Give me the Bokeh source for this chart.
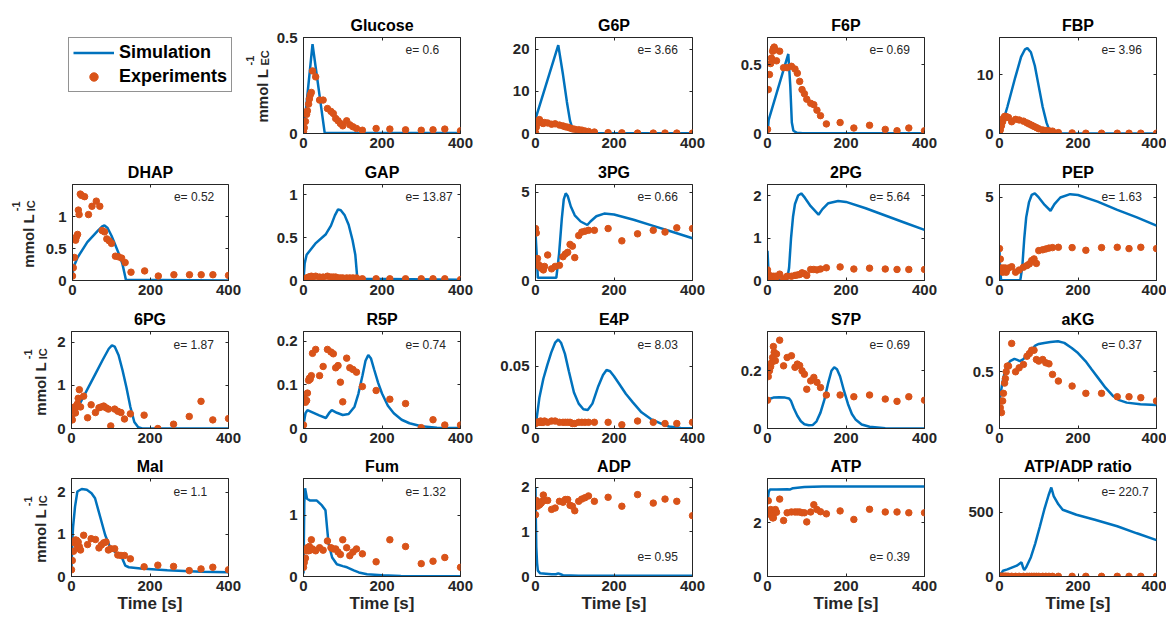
import math
from bokeh.plotting import figure
from bokeh.models import Range1d, FixedTicker, Label, Legend, LegendItem, NumeralTickFormatter, LinearAxis
from bokeh.layouts import column, row
from bokeh.embed import file_html
from bokeh.resources import INLINE

BLUE = "#0072BD"
ORANGE = "#D95319"
AXC = "#262626"
FONT = "Liberation Sans"

# shared experimental sampling times [s]
T_EXP = [0, 2, 5, 8, 10, 13, 15, 17, 20, 23, 31, 41, 50, 61, 70, 76, 82, 88, 94, 100,
         110, 118, 126, 135, 150, 185, 220, 260, 300, 330, 360, 400]

# ---------------- Glucose ----------------
GLC_T = [0, 23, 54, 400]
GLC_S = [0.0, 0.465, 0.003, 0.003]
GLC_E = [0.01, 0.03, 0.063, 0.10, 0.118, 0.153, 0.18, 0.2, 0.214, 0.326, 0.295, 0.174, 0.174, 0.13, 0.115, 0.104,
         0.078, 0.066, 0.052, 0.04, 0.066, 0.045, 0.035, 0.026, 0.017, 0.026, 0.023, 0.019, 0.017, 0.019, 0.023, 0.014]
# ---------------- G6P ----------------
G6P_T = [0, 58, 70, 80, 88, 95, 105, 120, 400]
G6P_S = [3.5, 21.0, 14.0, 7.5, 3.0, 1.0, 0.2, 0.05, 0.05]
G6P_E = [0.2, 1.5, 2.5, 3.0, 3.3, 2.8, 2.6, 2.5, 2.4, 2.6, 2.5, 2.2, 2.3, 2.0, 1.8, 1.6,
         1.5, 1.3, 1.1, 1.0, 0.9, 0.8, 0.6, 0.5, 0.35, 0.2, 0.15, 0.1, 0.1, 0.1, 0.1, 0.1]
# ---------------- F6P ----------------
F6P_T = [0, 3, 53, 58, 62, 66, 75, 90, 400]
F6P_S = [0.0, 0.1, 0.58, 0.35, 0.08, 0.02, 0.005, 0.002, 0.002]
F6P_E = [0.03, 0.32, 0.43, 0.51, 0.55, 0.6, 0.62, 0.63, 0.61, 0.53, 0.6, 0.48, 0.48, 0.49, 0.47, 0.44,
         0.38, 0.32, 0.29, 0.25, 0.22, 0.21, 0.17, 0.13, 0.07, 0.08, 0.04, 0.06, 0.03, 0.02, 0.04, 0.02]
# ---------------- FBP ----------------
FBP_T = [0, 20, 40, 55, 65, 71, 80, 90, 100, 110, 120, 128, 135, 400]
FBP_S = [0.0, 4.5, 9.5, 13.0, 14.3, 14.5, 13.8, 11.5, 8.0, 4.5, 1.8, 0.4, 0.05, 0.02]
FBP_E = [0.05, 0.6, 1.3, 2.0, 2.6, 2.9, 2.9, 2.8, 2.8, 2.7, 2.0, 2.4, 2.3, 2.1, 1.8, 1.6,
         1.4, 1.2, 1.0, 0.8, 0.6, 0.5, 0.45, 0.4, 0.15, 0.1, 0.05, 0.05, 0.05, 0.05, 0.05, 0.05]
# ---------------- DHAP ----------------
DHAP_T = [0, 2, 13, 38, 64, 75, 82, 90, 100, 110, 120, 128, 133, 137, 400]
DHAP_S = [0.05, 0.2, 0.36, 0.6, 0.77, 0.84, 0.86, 0.82, 0.7, 0.55, 0.4, 0.26, 0.12, 0.01, 0.0]
DHAP_E = [0.07, 0.2, 0.36, 0.63, 0.68, 0.72, 1.1, 1.03, 1.35, 1.33, 1.31, 1.03, 1.16, 1.24, 1.16, 0.78,
          0.76, 0.65, 0.62, 0.58, 0.38, 0.37, 0.35, 0.28, 0.13, 0.15, 0.07, 0.09, 0.09, 0.09, 0.09, 0.08]
# ---------------- GAP ----------------
GAP_T = [0, 3, 8, 30, 57, 70, 80, 88, 95, 105, 115, 125, 132, 137, 150, 400]
GAP_S = [0.0, 0.2, 0.3, 0.43, 0.54, 0.64, 0.76, 0.83, 0.82, 0.76, 0.65, 0.47, 0.3, 0.03, 0.02, 0.01]
GAP_E = [0.01, 0.02, 0.02, 0.03, 0.03, 0.04, 0.04, 0.04, 0.05, 0.04, 0.05, 0.04, 0.04, 0.05, 0.04, 0.04,
         0.04, 0.03, 0.03, 0.03, 0.03, 0.03, 0.03, 0.03, 0.02, 0.02, 0.02, 0.02, 0.02, 0.02, 0.02, 0.01]
# ---------------- 3PG ----------------
PG3_T = [0, 3, 6, 53, 60, 67, 72, 77, 82, 90, 100, 115, 132, 140, 155, 175, 200, 250, 300, 350, 400]
PG3_S = [2.7, 1.5, 0.15, 0.15, 1.5, 3.5, 4.6, 4.95, 4.8, 4.2, 3.7, 3.35, 3.15, 3.35, 3.65, 3.8, 3.75, 3.45, 3.1, 2.75, 2.4]
PG3_E = [2.95, 2.7, 1.25, 0.9, 0.8, 0.76, 0.7, 0.76, 0.6, 0.8, 1.45, 0.66, 0.8, 0.86, 1.35, 1.5,
         1.6, 2.05, 1.95, 1.3, 2.55, 2.75, 2.8, 2.85, 2.85, 2.95, 2.25, 2.65, 2.85, 2.75, 2.99, 2.95]
# ---------------- 2PG ----------------
PG2_T = [0, 2, 5, 50, 55, 60, 65, 70, 78, 86, 95, 110, 130, 140, 155, 180, 200, 250, 300, 350, 400]
PG2_S = [0.7, 0.3, 0.02, 0.02, 0.3, 1.0, 1.5, 1.8, 2.0, 2.05, 1.95, 1.75, 1.55, 1.68, 1.82, 1.87, 1.85, 1.7, 1.53, 1.36, 1.19]
PG2_E = [0.25, 0.15, 0.08, 0.05, 0.1, 0.08, 0.1, 0.05, 0.1, 0.08, 0.15, 0.05, 0.1, 0.1, 0.12, 0.13,
         0.14, 0.18, 0.16, 0.12, 0.26, 0.26, 0.25, 0.27, 0.3, 0.32, 0.27, 0.29, 0.27, 0.26, 0.26, 0.26]
# ---------------- PEP ----------------
PEP_T = [0, 1, 4, 53, 58, 63, 68, 75, 82, 90, 100, 115, 130, 140, 155, 180, 200, 250, 300, 350, 400]
PEP_S = [1.8, 1.0, 0.02, 0.02, 0.8, 2.5, 3.8, 4.7, 5.15, 5.25, 5.0, 4.55, 4.2, 4.6, 5.0, 5.2, 5.15, 4.75, 4.25, 3.8, 3.3]
PEP_E = [1.92, 1.29, 0.75, 0.5, 0.75, 0.6, 0.75, 0.5, 0.7, 0.75, 0.83, 0.5, 0.63, 0.8, 0.9, 1.0,
         1.2, 1.3, 1.03, 1.8, 1.85, 1.9, 1.95, 1.98, 2.0, 1.98, 1.82, 1.98, 2.0, 1.92, 2.0, 1.92]
# ---------------- 6PG ----------------
PG6_T = [0, 20, 40, 60, 80, 95, 103, 110, 120, 130, 140, 150, 160, 170, 180, 400]
PG6_S = [0.2, 0.55, 0.9, 1.25, 1.6, 1.85, 1.93, 1.9, 1.7, 1.35, 0.95, 0.5, 0.15, 0.03, 0.0, 0.0]
PG6_E = [0.23, 0.2, 0.49, 0.41, 0.36, 0.53, 0.57, 0.7, 0.9, 0.5, 0.75, 0.25, 0.55, 0.37, 0.48, 0.5,
         0.52, 0.48, 0.45, 0.06, 0.45, 0.4, 0.37, 0.22, 0.34, 0.31, 0.0, 0.1, 0.28, 0.63, 0.2, 0.23]
# ---------------- R5P ----------------
R5P_T = [0, 5, 10, 20, 40, 57, 65, 72, 85, 100, 115, 130, 140, 150, 158, 165, 172, 180, 190, 200,
         215, 230, 250, 270, 300, 340, 400]
R5P_S = [0.008, 0.035, 0.042, 0.038, 0.03, 0.024, 0.035, 0.042, 0.036, 0.031, 0.033, 0.05, 0.08, 0.12,
         0.155, 0.168, 0.16, 0.135, 0.105, 0.08, 0.052, 0.035, 0.02, 0.012, 0.005, 0.002, 0.001]
R5P_E = [0.008, 0.069, 0.06, 0.064, 0.081, 0.11, 0.115, 0.113, 0.121, 0.172, 0.181, 0.121, 0.142, 0.181, 0.175, 0.171,
         0.139, 0.144, 0.106, 0.061, 0.161, 0.139, 0.135, 0.129, 0.096, 0.087, 0.067, 0.057, 0.002, 0.02, 0.008, 0.008]
# ---------------- E4P ----------------
E4P_T = [0, 10, 20, 30, 40, 50, 58, 65, 75, 85, 98, 110, 122, 133, 145, 160, 172, 181, 190, 200,
         213, 230, 248, 270, 294, 320, 340, 370, 400]
E4P_S = [0.001, 0.025, 0.04, 0.051, 0.061, 0.069, 0.0716, 0.069, 0.06, 0.046, 0.029, 0.02, 0.0155, 0.0149,
         0.02, 0.034, 0.043, 0.047, 0.046, 0.042, 0.036, 0.028, 0.021, 0.013, 0.0076, 0.004, 0.0016, 0.0005, 0.0002]
E4P_E = [0.004, 0.005, 0.005, 0.005, 0.005, 0.006, 0.005, 0.005, 0.005, 0.006, 0.005, 0.006, 0.006, 0.005, 0.005, 0.005,
         0.005, 0.005, 0.004, 0.004, 0.005, 0.005, 0.005, 0.005, 0.005, 0.005, 0.003, 0.006, 0.005, 0.004, 0.004, 0.005]
# ---------------- S7P ----------------
S7P_T = [0, 8, 15, 30, 45, 55, 60, 67, 76, 85, 94, 105, 115, 125, 135, 145, 155, 163, 170, 177,
         185, 195, 205, 215, 225, 240, 260, 300, 400]
S7P_S = [0.096, 0.104, 0.107, 0.108, 0.107, 0.104, 0.095, 0.07, 0.044, 0.025, 0.015, 0.011, 0.012, 0.025,
         0.055, 0.1, 0.16, 0.2, 0.212, 0.205, 0.18, 0.13, 0.085, 0.05, 0.03, 0.014, 0.006, 0.001, 0.0]
S7P_E = [0.098, 0.18, 0.2, 0.214, 0.227, 0.246, 0.284, 0.264, 0.235, 0.258, 0.306, 0.217, 0.246, 0.252, 0.212, 0.223,
         0.218, 0.2, 0.188, 0.136, 0.165, 0.177, 0.16, 0.142, 0.116, 0.116, 0.11, 0.116, 0.102, 0.094, 0.11, 0.098]
# ---------------- aKG ----------------
AKG_T = [0, 3, 6, 10, 15, 20, 27, 38, 45, 52, 60, 68, 80, 91, 100, 114, 130, 149, 165, 184,
         200, 219, 235, 254, 270, 289, 305, 324, 359, 400]
AKG_S = [0.228, 0.31, 0.374, 0.45, 0.52, 0.56, 0.594, 0.614, 0.605, 0.594, 0.61, 0.637, 0.69, 0.73, 0.745,
         0.754, 0.762, 0.769, 0.755, 0.71, 0.665, 0.594, 0.52, 0.433, 0.36, 0.287, 0.25, 0.228, 0.213, 0.208]
AKG_E = [0.243, 0.184, 0.14, 0.243, 0.31, 0.4, 0.44, 0.5, 0.55, 0.55, 0.75, 0.5, 0.535, 0.564, 0.637, 0.66,
         0.69, 0.69, 0.608, 0.594, 0.608, 0.579, 0.57, 0.477, 0.418, 0.374, 0.31, 0.31, 0.28, 0.28, 0.272, 0.243]
# ---------------- Mal ----------------
MAL_T = [0, 2, 4, 9, 15, 26, 39, 51, 60, 73, 86, 99, 116, 128, 137, 146, 176, 244, 330, 400]
MAL_S = [0.18, 0.8, 1.18, 1.66, 2.02, 2.08, 2.06, 1.98, 1.86, 1.42, 0.98, 0.68, 0.54, 0.46, 0.26, 0.22, 0.19, 0.15, 0.11, 0.1]
MAL_E = [0.16, 0.38, 0.6, 0.8, 0.87, 0.86, 0.68, 0.82, 0.71, 0.63, 0.98, 0.76, 0.9, 0.88, 0.68, 0.75,
         0.8, 0.82, 0.63, 0.66, 0.66, 0.51, 0.5, 0.5, 0.42, 0.23, 0.27, 0.24, 0.14, 0.18, 0.22, 0.16]
# ---------------- Fum ----------------
FUM_T = [0, 2, 4, 9, 17, 34, 47, 56, 60, 64, 73, 85, 100, 111, 128, 141, 162, 200, 248, 400]
FUM_S = [0.05, 1.2, 1.44, 1.27, 1.24, 1.24, 1.16, 1.08, 0.8, 0.53, 0.31, 0.2, 0.17, 0.15, 0.1, 0.066, 0.038, 0.02, 0.01, 0.005]
FUM_E = [0.15, 0.23, 0.3, 0.42, 0.47, 0.42, 0.49, 0.43, 0.6, 0.45, 0.42, 0.47, 0.43, 0.58, 0.47, 0.45,
         0.45, 0.4, 0.36, 0.6, 0.47, 0.34, 0.4, 0.45, 0.37, 0.24, 0.6, 0.49, 0.21, 0.25, 0.31, 0.15]
# ---------------- ADP ----------------
ADP_T = [0, 1, 2, 4, 6, 12, 41, 52, 58, 64, 70, 110, 200, 400]
ADP_S = [1.98, 1.2, 0.66, 0.3, 0.13, 0.07, 0.05, 0.05, 0.07, 0.05, 0.03, 0.015, 0.015, 0.015]
ADP_E = [1.38, 1.7, 1.57, 1.66, 1.6, 1.63, 1.65, 1.68, 1.82, 1.7, 1.7, 1.5, 1.53, 1.68, 1.66, 1.72,
         1.72, 1.59, 1.57, 1.47, 1.68, 1.73, 1.76, 1.8, 1.68, 1.77, 1.57, 1.83, 1.64, 1.73, 1.68, 1.36]
# ---------------- ATP ----------------
ATP_T = [0, 3, 6, 23, 50, 58, 65, 94, 140, 400]
ATP_S = [2.76, 3.15, 3.25, 3.25, 3.26, 3.25, 3.3, 3.34, 3.36, 3.36]
ATP_E = [2.38, 2.83, 2.38, 2.5, 2.28, 2.19, 2.19, 2.38, 2.5, 2.4, 2.89, 2.09, 2.38, 2.41, 2.41, 2.41,
         2.41, 2.38, 2.38, 2.04, 2.41, 2.68, 2.5, 2.42, 2.34, 2.45, 2.13, 2.51, 2.41, 2.41, 2.38, 2.38]
# ---------------- ATP/ADP ratio ----------------
RAT_T = [0, 3, 6, 9, 20, 44, 56, 60, 63, 68, 80, 91, 103, 114, 125, 132, 138, 150, 161, 196, 243, 300, 350, 400]
RAT_S = [5, 20, 30, 45, 55, 84, 110, 70, 50, 71, 150, 255, 390, 518, 630, 690, 624, 560, 518, 479, 440, 390, 335, 282]
RAT_E = [1.7, 1.7, 1.5, 1.5, 1.4, 1.3, 1.3, 1.4, 1.4, 1.4, 1.7, 1.4, 1.6, 1.4, 1.5, 1.4,
         1.4, 1.5, 1.5, 1.4, 1.4, 1.5, 1.4, 1.3, 1.4, 1.4, 1.4, 1.4, 1.5, 1.4, 1.4, 1.8]

X_TICKS = [0, 200, 400]
LEGEND_LABELS = ["Simulation", "Experiments"]

# panel table: title, sim t, sim y, exp y, y max, y ticks, error text, error low?
PANELS = [
    [("Glucose", GLC_T, GLC_S, GLC_E, 0.5, [0, 0.5], "e= 0.6", False),
     ("G6P", G6P_T, G6P_S, G6P_E, 22.8, [0, 10, 20], "e= 3.66", False),
     ("F6P", F6P_T, F6P_S, F6P_E, 0.7, [0, 0.5], "e= 0.69", False),
     ("FBP", FBP_T, FBP_S, FBP_E, 16.3, [0, 10], "e= 3.96", False)],
    [("DHAP", DHAP_T, DHAP_S, DHAP_E, 1.5, [0, 0.5, 1], "e= 0.52", False),
     ("GAP", GAP_T, GAP_S, GAP_E, 1.12, [0, 0.5, 1], "e= 13.87", False),
     ("3PG", PG3_T, PG3_S, PG3_E, 5.45, [0, 5], "e= 0.66", False),
     ("2PG", PG2_T, PG2_S, PG2_E, 2.26, [0, 1, 2], "e= 5.64", False),
     ("PEP", PEP_T, PEP_S, PEP_E, 5.78, [0, 5], "e= 1.63", False)],
    [("6PG", PG6_T, PG6_S, PG6_E, 2.25, [0, 1, 2], "e= 1.87", False),
     ("R5P", R5P_T, R5P_S, R5P_E, 0.222, [0, 0.1, 0.2], "e= 0.74", False),
     ("E4P", E4P_T, E4P_S, E4P_E, 0.078, [0, 0.05], "e= 8.03", False),
     ("S7P", S7P_T, S7P_S, S7P_E, 0.336, [0, 0.2], "e= 0.69", False),
     ("aKG", AKG_T, AKG_S, AKG_E, 0.855, [0, 0.5], "e= 0.37", False)],
    [("Mal", MAL_T, MAL_S, MAL_E, 2.33, [0, 1, 2], "e= 1.1", False),
     ("Fum", FUM_T, FUM_S, FUM_E, 1.6, [0, 1], "e= 1.32", False),
     ("ADP", ADP_T, ADP_S, ADP_E, 2.19, [0, 1, 2], "e= 0.95", True),
     ("ATP", ATP_T, ATP_S, ATP_E, 3.66, [0, 2], "e= 0.39", True),
     ("ATP/ADP ratio", RAT_T, RAT_S, RAT_E, 760, [0, 500], "e= 220.7", False)],
]

FRAME_W = 157
CELL_H = [158, 147, 147, 171]
TOP = [37, 25, 25, 25]
BOT = [25, 25, 24, 47]
FRAME_H = [CELL_H[i] - TOP[i] - BOT[i] for i in range(4)]


def style_axis(ax):
    ax.major_tick_in = 3
    ax.major_tick_out = 0
    ax.minor_tick_line_color = None
    ax.axis_line_color = AXC
    ax.major_tick_line_color = AXC
    ax.major_label_text_font = FONT
    ax.major_label_text_font_style = "bold"
    ax.major_label_text_font_size = "15px"
    ax.major_label_text_color = AXC
    ax.major_label_standoff = 4


def box_axis(ticks):
    """Unlabelled axis for the inward ticks on the top / right edge of the box."""
    ax = LinearAxis(ticker=FixedTicker(ticks=ticks),
                    major_label_overrides={t: "" for t in ticks})
    ax.major_tick_in = 3
    ax.major_tick_out = 0
    ax.minor_tick_line_color = None
    ax.axis_line_color = None
    ax.major_tick_line_color = AXC
    ax.major_label_standoff = 0
    ax.major_label_text_font_size = "1px"
    return ax


def make_panel(spec, r, left, right):
    name, st, sy, ey, ytop, yticks, etxt, elow = spec
    p = figure(width=left + FRAME_W + right, height=CELL_H[r], x_range=Range1d(0, 400), y_range=Range1d(0, ytop),
               output_backend="svg", toolbar_location=None,
               min_border_left=left, min_border_right=right,
               min_border_top=TOP[r], min_border_bottom=BOT[r])
    p.title.text = name
    p.title.align = "center"
    p.title.text_font = FONT
    p.title.text_font_style = "bold"
    p.title.text_font_size = "16px"
    p.title.text_color = "black"
    p.title.standoff = 7
    p.grid.visible = False
    p.outline_line_color = AXC
    p.outline_line_alpha = 1.0
    p.outline_line_width = 1

    p.line(st, sy, line_color=BLUE, line_width=2.5)
    p.scatter(T_EXP, ey, size=6.5, fill_color=ORANGE, line_color=ORANGE)

    xax = p.below[0]
    yax = p.left[0]
    style_axis(xax)
    style_axis(yax)
    xax.ticker = FixedTicker(ticks=X_TICKS)
    yax.ticker = FixedTicker(ticks=yticks)
    xax.formatter = NumeralTickFormatter(format="0.[00]")
    yax.formatter = NumeralTickFormatter(format="0.[00]")
    yax.major_label_standoff = 6
    if r == 3:
        xax.axis_label = "Time [s]"
        xax.axis_label_text_font = FONT
        xax.axis_label_text_font_style = "bold"
        xax.axis_label_text_font_size = "17px"
        xax.axis_label_text_color = AXC
        xax.axis_label_standoff = 0
    p.add_layout(box_axis(yticks), "right")
    p.add_layout(box_axis(X_TICKS), "above")

    ey_pos = ytop * (0.2 if elow else 0.865)
    p.add_layout(Label(x=260, y=ey_pos, text=etxt, text_font=FONT, text_font_size="12px",
                       text_color=AXC, text_baseline="middle", text_align="left"))
    return p


def make_ylabel_strip(r, width, bx, by, sub):
    """Narrow figure whose frame spans the strip; holds the rotated y-axis label.
    Data units = pixels (x from strip left, y from the row's frame bottom)."""
    s = figure(width=width, height=CELL_H[r], x_range=Range1d(0, width), y_range=Range1d(0, FRAME_H[r]),
               output_backend="svg", toolbar_location=None, title=None,
               min_border_left=0, min_border_right=0,
               min_border_top=TOP[r], min_border_bottom=BOT[r])
    s.axis.visible = False
    s.grid.visible = False
    s.outline_line_color = None
    common = dict(angle=math.pi / 2, text_font=FONT, text_font_style="bold", text_color=AXC,
                  text_align="left", text_baseline="alphabetic")
    s.add_layout(Label(x=bx, y=by, text="mmol L", text_font_size="15px", **common))
    s.add_layout(Label(x=bx - 13, y=by + 57, text="-1", text_font_size="11px", **common))
    s.add_layout(Label(x=bx + 2, y=by + 57, text=sub, text_font_size="11px", **common))
    return s


def make_legend_cell(width):
    # the line/marker renderers carry the Glucose data but sit outside the visible range,
    # they only provide the legend glyphs
    lg = figure(width=width, height=CELL_H[0], x_range=Range1d(1000, 1001), y_range=Range1d(1000, 1001),
                output_backend="svg", toolbar_location=None, title=None,
                min_border_left=68, min_border_right=0,
                min_border_top=TOP[0], min_border_bottom=BOT[0])
    lg.axis.visible = False
    lg.grid.visible = False
    lg.outline_line_color = None
    r1 = lg.line(GLC_T, GLC_S, line_color=BLUE, line_width=2.5)
    r2 = lg.scatter(T_EXP, GLC_E, size=6.5, fill_color=ORANGE, line_color=ORANGE)
    leg = Legend(items=[LegendItem(label=LEGEND_LABELS[0], renderers=[r1]),
                        LegendItem(label=LEGEND_LABELS[1], renderers=[r2])],
                 location="top_left")
    leg.label_text_font = FONT
    leg.label_text_font_style = "bold"
    leg.label_text_font_size = "18px"
    leg.label_text_color = "black"
    leg.glyph_width = 41
    leg.glyph_height = 21
    leg.label_height = 21
    leg.padding = 4
    leg.spacing = 3
    leg.label_standoff = 5
    leg.margin = 0
    leg.border_line_color = AXC
    leg.border_line_width = 1
    leg.background_fill_color = "white"
    leg.background_fill_alpha = 1.0
    lg.add_layout(leg)
    return lg


def panel_row(specs, r, first_left):
    figs = []
    n = len(specs)
    for i, spec in enumerate(specs):
        left = first_left if i == 0 else 58
        right = 10 if i == n - 1 else 17
        figs.append(make_panel(spec, r, left, right))
    return figs


rows = []
# row 0: legend | y-label strip | Glucose | G6P | F6P | FBP
rows.append(row(make_legend_cell(240), make_ylabel_strip(0, 33, 22, 11, "EC"),
                *panel_row(PANELS[0], 0, 30)))
# row 1: strip | DHAP ...
rows.append(row(make_ylabel_strip(1, 42, 28, 13, "IC"), *panel_row(PANELS[1], 1, 29)))
# row 2: strip | 6PG ...
rows.append(row(make_ylabel_strip(2, 50, 40, 13, "IC"), *panel_row(PANELS[2], 2, 21)))
# row 3: strip | Mal ...
rows.append(row(make_ylabel_strip(3, 50, 40, 14, "IC"), *panel_row(PANELS[3], 3, 21)))

layout = column(*rows)

html = file_html(layout, INLINE)
html = html.replace("<head>", "<head><style>html,body{margin:0;padding:0;}</style>", 1)
open("out.html", "w").write(html)
